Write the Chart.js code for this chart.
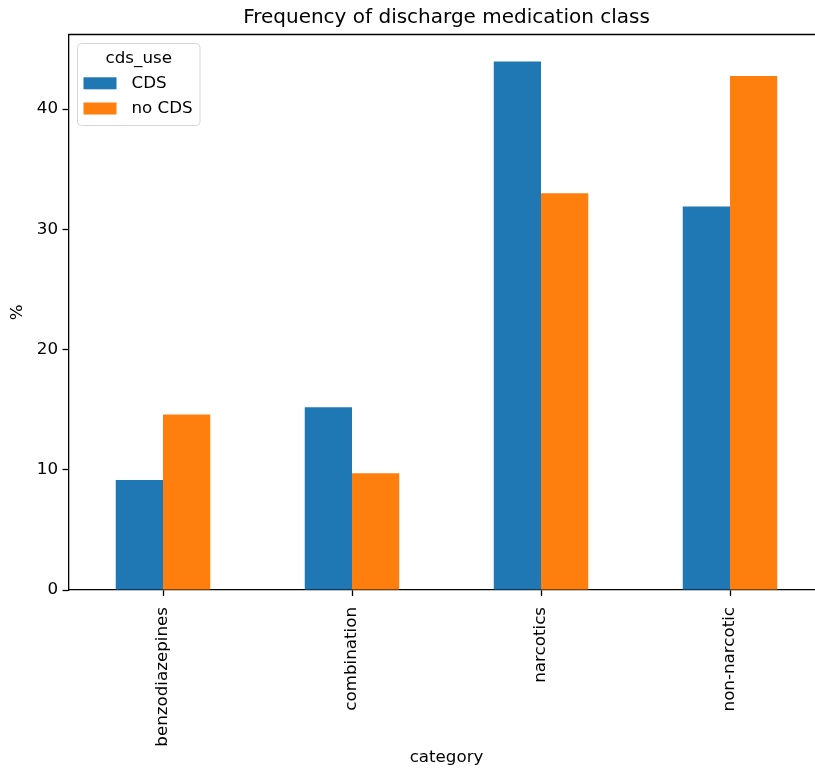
<!DOCTYPE html>
<html>
<head>
<meta charset="utf-8">
<script src="https://cdn.jsdelivr.net/npm/chart.js@4"></script>
<style>
  html, body { margin: 0; padding: 0; background: #fff; overflow: hidden; }
  #wrap { width: 830px; height: 769px; }
</style>
</head>
<body>
<div id="wrap"><canvas id="myChart" width="830" height="769"></canvas></div>
<script>
// dados
const categories = ['benzodiazepines', 'combination', 'narcotics', 'non-narcotic'];
const cdsValues = [9.14, 15.19, 43.95, 31.9];
const noCdsValues = [14.6, 9.7, 33.0, 42.75];
const yTickValues = [0, 10, 20, 30, 40];
const seriesNames = ['CDS', 'no CDS'];
const legendTitle = 'cds_use';
const chartTitle = 'Frequency of discharge medication class';
const yLabel = '%';
const xLabel = 'category';

const FONT = "'DejaVu Sans', sans-serif";

// desenha as bordas de cima/direita, titulos e a legenda
const extras = {
    id: 'extras',
    afterDraw(chart) {
        const ctx = chart.ctx;
        const a = chart.chartArea;
        ctx.save();
        ctx.strokeStyle = '#000';
        ctx.lineWidth = 1.3;
        ctx.beginPath();
        ctx.moveTo(a.left, a.top);
        ctx.lineTo(a.right, a.top);
        ctx.lineTo(a.right, a.bottom);
        ctx.stroke();

        ctx.fillStyle = '#000';
        ctx.textAlign = 'center';
        ctx.textBaseline = 'middle';
        ctx.font = '20px ' + FONT;
        ctx.fillText(chartTitle, (a.left + a.right) / 2, 18);

        ctx.font = '16.7px ' + FONT;
        ctx.fillText(xLabel, (a.left + a.right) / 2, 758);
        ctx.save();
        ctx.translate(18, (a.top + a.bottom) / 2);
        ctx.rotate(-Math.PI / 2);
        ctx.fillText(yLabel, 0, 0);
        ctx.restore();

        // legenda
        const lx = 77.5, ly = 43.5, lw = 122.5, lh = 82;
        ctx.beginPath();
        ctx.roundRect(lx, ly, lw, lh, 4);
        ctx.fillStyle = 'rgba(255,255,255,0.8)';
        ctx.fill();
        ctx.strokeStyle = '#d6d6d6';
        ctx.lineWidth = 1;
        ctx.stroke();

        ctx.fillStyle = '#000';
        ctx.textAlign = 'center';
        ctx.fillText(legendTitle, lx + lw / 2, 59);
        const rowsY = [83.3, 108.5];
        chart.data.datasets.forEach((ds, i) => {
            ctx.fillStyle = ds.backgroundColor;
            ctx.fillRect(83.5, rowsY[i] - 6, 33, 12);
            ctx.fillStyle = '#000';
            ctx.textAlign = 'left';
            ctx.fillText(ds.label, 131.5, rowsY[i]);
        });
        ctx.restore();
    }
};

const ctx1 = document.getElementById('myChart');
new Chart(ctx1, {
    type: 'bar',
    data: {
        labels: categories,
        datasets: [
            { label: seriesNames[0], data: cdsValues, backgroundColor: '#1f77b4' },
            { label: seriesNames[1], data: noCdsValues, backgroundColor: '#ff7f0e' }
        ]
    },
    options: {
        responsive: false,
        animation: false,
        layout: { padding: { top: 34.5, right: 5.5, left: 0, bottom: 0 } },
        plugins: {
            legend: { display: false },
            title: { display: false },
            tooltip: { enabled: false }
        },
        datasets: {
            bar: { categoryPercentage: 0.5, barPercentage: 1.0 }
        },
        scales: {
            x: {
                offset: true,
                afterFit: scale => { scale.height = 179; },
                grid: {
                    offset: false,
                    drawOnChartArea: false,
                    drawTicks: true,
                    tickLength: 6,
                    tickColor: '#000',
                    tickWidth: 1.3
                },
                border: { display: true, color: '#000', width: 1.3 },
                ticks: {
                    minRotation: 90,
                    maxRotation: 90,
                    autoSkip: false,
                    padding: 11,
                    color: '#000',
                    font: { family: FONT, size: 16.7 }
                }
            },
            y: {
                min: 0,
                max: 46.2,
                afterFit: scale => { scale.width = 68.5; },
                afterBuildTicks: scale => {
                    scale.ticks = yTickValues.map(v => ({ value: v }));
                },
                grid: {
                    drawOnChartArea: false,
                    drawTicks: true,
                    tickLength: 6,
                    tickColor: '#000',
                    tickWidth: 1.3
                },
                border: { display: true, color: '#000', width: 1.3 },
                ticks: {
                    padding: 4.5,
                    color: '#000',
                    font: { family: FONT, size: 16.7 }
                }
            }
        }
    },
    plugins: [extras]
});
</script>
</body>
</html>
